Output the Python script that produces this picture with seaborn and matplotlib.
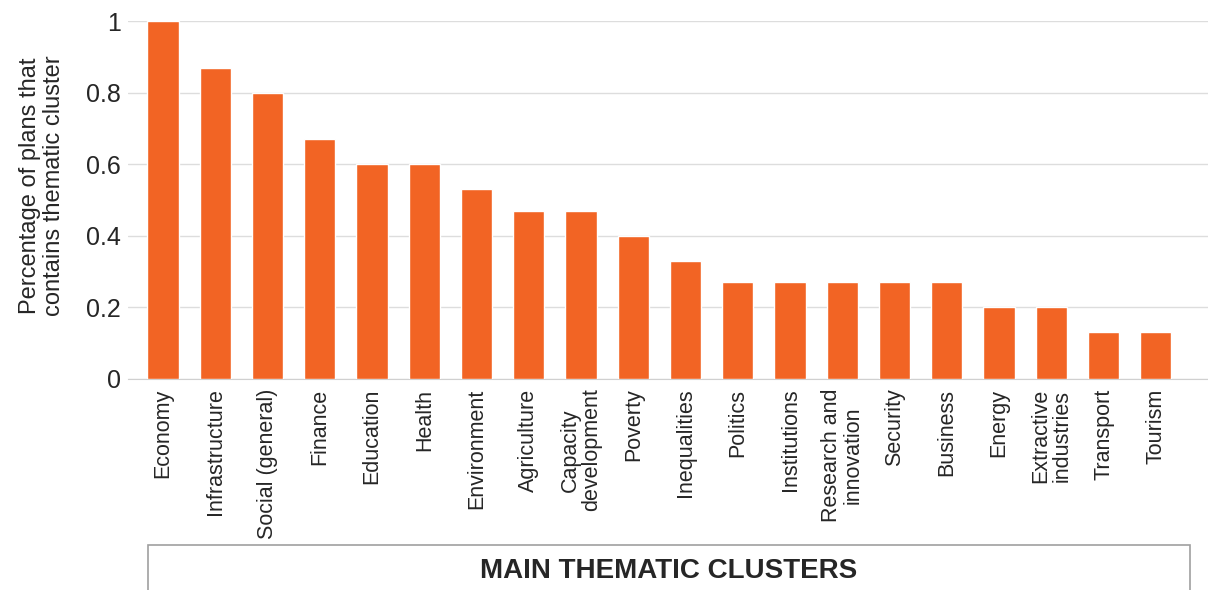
import matplotlib
matplotlib.use("Agg")
import matplotlib.pyplot as plt
import seaborn as sns
import pandas as pd
from matplotlib.patches import Rectangle

clusters = ["Economy", "Infrastructure", "Social (general)", "Finance", "Education",
            "Health", "Environment", "Agriculture", "Capacity\ndevelopment", "Poverty",
            "Inequalities", "Politics", "Institutions", "Research and\ninnovation",
            "Security", "Business", "Energy", "Extractive\nindustries", "Transport", "Tourism"]
shares = [1.0, 0.87, 0.8, 0.67, 0.6, 0.6, 0.53, 0.47, 0.47, 0.4,
          0.33, 0.27, 0.27, 0.27, 0.27, 0.27, 0.2, 0.2, 0.13, 0.13]
yticks = [0, 0.2, 0.4, 0.6, 0.8, 1]
yticklabels = ["0", "0.2", "0.4", "0.6", "0.8", "1"]

df = pd.DataFrame({"cluster": clusters, "share": shares})

sns.set_style("white")
plt.rcParams["font.family"] = ["Liberation Sans Narrow", "Liberation Sans", "DejaVu Sans"]

fig = plt.figure(figsize=(12.08, 5.9), dpi=100)
ax = fig.add_axes([0.106, 0.358, 0.894, 0.606])
sns.barplot(data=df, x="cluster", y="share", color="#F26424", saturation=1,
            width=0.6, ax=ax, zorder=3)

ax.set_ylim(0, 1)
ax.set_xlim(-0.67, 20.0)
ax.set_yticks(yticks)
ax.set_yticklabels(yticklabels, fontsize=18)
ax.yaxis.grid(True, color="#DDDDDD", linewidth=1, zorder=0)
ax.tick_params(axis="x", labelsize=15.5, rotation=90, length=0, pad=7)
ax.tick_params(axis="y", length=0, pad=5)
for lab in ax.get_xticklabels():
    lab.set_verticalalignment("top")
    lab.set_linespacing(1.05)
ax.set_xlabel("")
ax.set_ylabel("Percentage of plans that\ncontains thematic cluster", fontsize=17,
              linespacing=1.15)
ax.yaxis.set_label_coords(-0.058, 0.54)
for s in ["left", "right", "top"]:
    ax.spines[s].set_visible(False)
ax.spines["bottom"].set_color("#D0D0D0")

# framed caption box at the bottom
fig.add_artist(Rectangle((148 / 1208, -0.05), (1190 - 148) / 1208, 0.05 + 45 / 590,
                         transform=fig.transFigure, fill=False,
                         edgecolor="#A0A0A0", linewidth=1.2))
fig.text(669 / 1208, 1 - 571 / 590, "MAIN THEMATIC CLUSTERS", ha="center", va="center",
         fontsize=20, fontweight="bold")

fig.savefig("out.png", dpi=100)
